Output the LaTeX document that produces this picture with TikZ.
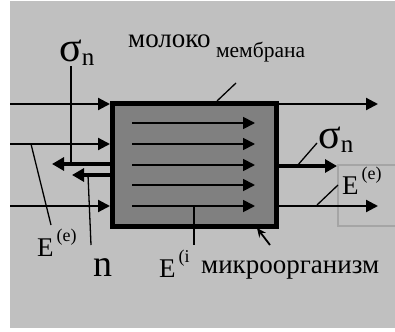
\documentclass[tikz,border=0pt]{standalone}
\usepackage{fontspec}
\setmainfont{Liberation Serif}
\usepackage{tikz}
\usetikzlibrary{arrows.meta,positioning}
\definecolor{bggray}{RGB}{192,192,192}
\definecolor{cellgray}{RGB}{128,128,128}
\definecolor{framegray}{RGB}{165,165,165}
\newcommand{\sgn}{{\fontsize{42}{42}\selectfont σ}{\fontsize{25}{25}\selectfont\raisebox{-4pt}{n}}}
\newcommand{\supr}[1]{\hspace{3pt}\raisebox{15pt}{\fontsize{18}{18}\selectfont #1}}

\begin{document}
\begin{tikzpicture}[
            x=1pt, y=-1pt,
            cell/.style={draw, line width=5pt, fill=cellgray,
            minimum width=164pt, minimum height=122pt, inner sep=0pt},
            txt/.style={inner sep=0pt, anchor=base west, font=\fontsize{27}{27}\selectfont},
            small/.style={inner sep=0pt, anchor=base west, font=\fontsize{21.5}{21.5}\selectfont},
            flow/.style={line width=2.2pt, -{Triangle[length=12pt,width=12pt]}},
            flowin/.style={line width=1.8pt, -{Triangle[length=12pt,width=12pt]}},
            stress/.style={line width=4.2pt, -{Triangle[length=12pt,width=13pt]}},
            ptr/.style={line width=1.3pt},
            ptrar/.style={line width=1.8pt, -{Stealth[length=9pt,width=8pt]}}
        ]
\useasboundingbox (0,0) rectangle (395,331);
\fill[bggray] (10,1) rectangle (395,328);
% frame round the outer E
            \draw[framegray, line width=1.5pt] (395,165) -- (338,165) -- (338,226) -- (395,226);
% ends of the outer flow
            \coordinate (inA)  at (10,104);
            \coordinate (inB)  at (10,144);
            \coordinate (inC)  at (10,206);
            \coordinate (outA) at (378,104);
            \coordinate (outS) at (337,166);
            \coordinate (outC) at (378,206);
            \coordinate (tipS) at (52,164);
            \coordinate (tipN) at (72,175);
% the cell
            \node[cell] (cell) at (194.5,165) {};
            \foreach \yy in {123,144,165,185,206}
                \draw[flowin] (132,\yy) -- (255,\yy);

            \draw[flow]   (inA) -- (inA -| cell.west);
            \draw[flow]   (inB) -- (inB -| cell.west);
            \draw[flow]   (inC) -- (inC -| cell.west);
            \draw[flow]   (outA -| cell.east) -- (outA);
            \draw[flow]   (outC -| cell.east) -- (outC);
            \draw[stress] (outS -| cell.east) -- (outS);
            \draw[stress] (tipS -| cell.west) -- (tipS);
            \draw[stress] (tipN -| cell.west) -- (tipN);
% labels
            \node[txt]   (milk)   at (128,48)  {молоко};
            \node[small] (memb)   at ([xshift=5pt, yshift=-10pt]milk.base east) {мембрана};
            \node[txt]   (micro)  at (201,273) {микроорганизм};
            \node[txt]   (sigtop) at (59,62)   {\sgn};
            \node[txt]   (sigout) at (318,148) {\sgn};
            \node[txt, font=\fontsize{38}{38}\selectfont] (nrm) at (93,276) {n};
            \node[txt]   (eleft)  at (37,256)  {E\supr{(e)}};
            \node[txt]   (eout)   at (342,194) {E\supr{(e)}};
            \node[txt]   (einn)   at (159,277) {E\supr{(i}};
% pointer lines
            \coordinate (sigfoot) at (71,164);
            \coordinate (nA) at (88,175);  \coordinate (nB) at (91,245);
            \coordinate (eA) at (31,144);  \coordinate (eB) at (51,225);
            \coordinate (iA) at (194,206); \coordinate (iB) at (194,245);
            \coordinate (mA) at (236,83);  \coordinate (mB) at (217,101);
            \coordinate (sA) at (317,143); \coordinate (sB) at (297,166);
            \coordinate (oA) at (338,185); \coordinate (oB) at (317,205);
            \coordinate (kA) at (270,245); \coordinate (kB) at (257,228);
            \draw[ptr] (sigfoot |- sigtop.south) -- (sigfoot);
            \draw[ptr] (nA) -- (nB);
            \draw[ptr] (eA) -- (eB);
            \draw[ptr] (iA) -- (iB);
            \draw[ptr] (mA) -- (mB);
            \draw[ptr] (sA) -- (sB);
            \draw[ptr] (oA) -- (oB);
            \draw[ptrar] (kA) -- (kB);
\end{tikzpicture}
\end{document}
